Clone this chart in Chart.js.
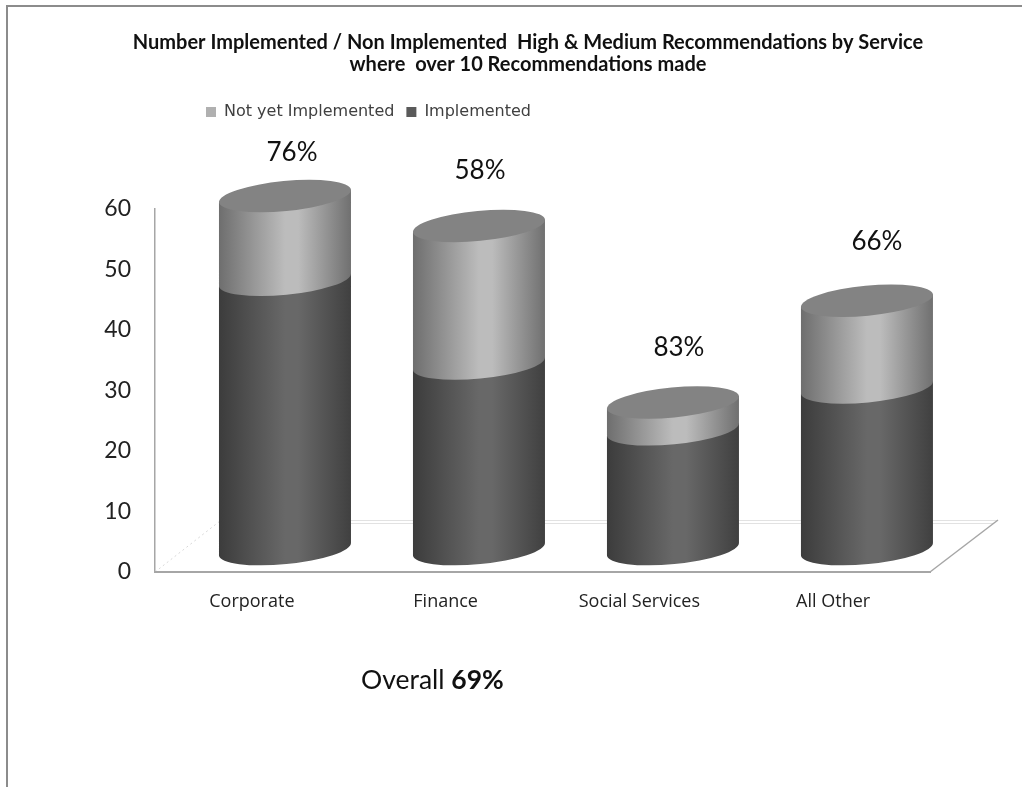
<!DOCTYPE html>
<html>
<head>
<meta charset="utf-8">
<style>
html, body { margin: 0; padding: 0; background: #fff; overflow: hidden; }
#wrap { width: 1022px; height: 787px; }
</style>
<script src="https://cdn.jsdelivr.net/npm/chart.js@4/dist/chart.umd.min.js"></script>
</head>
<body>
<div id="wrap"><canvas id="chart" width="1022" height="787"></canvas></div>
<script>
const categories = ["Corporate", "Finance", "Social Services", "All Other"];
const implemented = [45, 31, 20, 27];
const notImplemented = [14, 23, 4.5, 14.5];
const percentLabels = ["76%", "58%", "83%", "66%"];
const titleLines = [
  "Number Implemented / Non Implemented  High & Medium Recommendations by Service",
  "where  over 10 Recommendations made"
];
const yTicks = [0, 10, 20, 30, 40, 50, 60];

// the percent labels were placed by hand in the original, not evenly
const labelShiftX = [7, 1, 6, 10];
const labelShiftY = [43, 55, 55, 59];

const TILT = -5.5 * Math.PI / 180;
const RY = 15;

// horizontal shading across one cylinder
function shade(ctx, left, right, edge, mid, edge2) {
  const g = ctx.createLinearGradient(left, 0, right, 0);
  g.addColorStop(0, edge);
  g.addColorStop(0.5, mid);
  g.addColorStop(0.6, mid);
  g.addColorStop(1, edge2);
  return g;
}

// one section of a cylinder between two centre heights
function body(ctx, x, w, yTop, yBottom, fill) {
  const rx = w / 2 / Math.cos(TILT);
  ctx.beginPath();
  ctx.ellipse(x, yBottom, rx, RY, TILT, Math.PI, 0, true);
  ctx.lineTo(x + w / 2, yTop + w / 2 * Math.tan(TILT));
  ctx.lineTo(x - w / 2, yTop - w / 2 * Math.tan(TILT));
  ctx.closePath();
  ctx.fillStyle = fill;
  ctx.fill();
}

const cylinders = {
  id: "cylinders",
  beforeInit(chart) {
    // room between the legend and the plot
    const fit = chart.legend.fit;
    chart.legend.fit = function () {
      fit.call(this);
      this.height += 79;
    };
  },
  afterLayout(chart) {
    chart.legend.left = 194;
    chart.scales.y.left = 60; // tick labels get clipped to this
  },
  beforeDraw(chart) {
    const { ctx, chartArea: a } = chart;
    ctx.save();
    // outer frame
    ctx.strokeStyle = "#8c8c8c";
    ctx.lineWidth = 2;
    ctx.beginPath();
    ctx.moveTo(7, 787);
    ctx.lineTo(7, 6);
    ctx.lineTo(1022, 6);
    ctx.stroke();
    // floor of the 3d plot
    ctx.strokeStyle = "#e2e2e2";
    ctx.lineWidth = 1;
    ctx.beginPath();
    ctx.moveTo(a.left + 65, a.bottom - 51.5);
    ctx.lineTo(a.right + 68, a.bottom - 51.5);
    ctx.moveTo(a.left + 65, a.bottom - 48.5);
    ctx.lineTo(a.right + 64, a.bottom - 48.5);
    ctx.stroke();
    ctx.setLineDash([2, 3]);
    ctx.strokeStyle = "#d8d8d8";
    ctx.beginPath();
    ctx.moveTo(a.left, a.bottom);
    ctx.lineTo(a.left + 65, a.bottom - 51);
    ctx.stroke();
    ctx.setLineDash([]);
    ctx.strokeStyle = "#a6a6a6";
    ctx.lineWidth = 1.5;
    ctx.beginPath();
    ctx.moveTo(a.right, a.bottom);
    ctx.lineTo(a.right + 68, a.bottom - 52);
    ctx.stroke();
    ctx.restore();
  },
  beforeDatasetsDraw(chart) {
    const { ctx } = chart;
    const low = chart.getDatasetMeta(0).data;
    const high = chart.getDatasetMeta(1).data;
    ctx.save();
    low.forEach((bar, i) => {
      const top = high[i];
      const l = bar.x - bar.width / 2, r = bar.x + bar.width / 2;
      const rx = bar.width / 2 / Math.cos(TILT);
      body(ctx, bar.x, bar.width, bar.y, bar.base, shade(ctx, l, r, "#3c3c3c", "#686868", "#404040"));
      body(ctx, bar.x, bar.width, top.y, top.base, shade(ctx, l, r, "#6e6e6e", "#bcbcbc", "#707070"));
      ctx.beginPath();
      ctx.ellipse(top.x, top.y, rx, RY, TILT, 0, Math.PI * 2);
      ctx.fillStyle = "#838383";
      ctx.fill();
    });
    ctx.restore();
    return false;
  },
  afterDraw(chart) {
    const { ctx } = chart;
    const high = chart.getDatasetMeta(1).data;
    ctx.save();
    ctx.fillStyle = "#111";
    ctx.textBaseline = "middle";
    ctx.textAlign = "center";
    ctx.font = "26px Lato";
    high.forEach((bar, i) => {
      ctx.fillText(percentLabels[i], bar.x + labelShiftX[i], bar.y - labelShiftY[i]);
    });
    ctx.textAlign = "left";
    ctx.font = "26.5px Lato";
    ctx.fillText("Overall ", 361, 680);
    const w = ctx.measureText("Overall ").width;
    ctx.font = "bold 26.5px Lato";
    ctx.fillText("69%", 361 + w, 680);
    ctx.restore();
  }
};

new Chart(document.getElementById("chart"), {
  type: "bar",
  data: {
    labels: categories,
    datasets: [
      {
        label: "Implemented",
        data: categories.map((c, i) => ({ x: i, y: implemented[i] })),
        backgroundColor: "#5a5a5a",
        xAxisID: "xBar",
        yAxisID: "yBar",
        barThickness: 132
      },
      {
        label: "Not yet Implemented",
        data: categories.map((c, i) => ({ x: i, y: notImplemented[i] })),
        backgroundColor: "#b0b0b0",
        xAxisID: "xBar",
        yAxisID: "yBar",
        barThickness: 132
      }
    ]
  },
  plugins: [cylinders],
  options: {
    responsive: false,
    animation: false,
    layout: { padding: { left: 126, right: 92, top: 0, bottom: 0 } },
    plugins: {
      tooltip: { enabled: false },
      title: {
        display: true,
        text: titleLines,
        color: "#111",
        font: { family: "Lato", size: 20, weight: "bold", lineHeight: 1.1 },
        padding: { top: 32, bottom: 16 }
      },
      legend: {
        display: true,
        position: "top",
        align: "start",
        reverse: true,
        labels: {
          boxWidth: 10,
          boxHeight: 10,
          padding: 12,
          color: "#404040",
          font: { family: "DejaVu Sans", size: 16 }
        }
      }
    },
    scales: {
      // the labelled axes
      x: {
        type: "category",
        position: "bottom",
        afterFit: s => { s.height = 215; },
        grid: { display: false },
        border: { color: "#a6a6a6", width: 2 },
        ticks: { color: "#222", padding: 11, maxRotation: 0, font: { family: "Open Sans", size: 18 } }
      },
      y: {
        type: "linear",
        position: "left",
        min: 0,
        max: 60,
        afterFit: s => { s.width = 29; },
        afterBuildTicks: s => { s.ticks = yTicks.map(v => ({ value: v })); },
        grid: { display: false },
        border: { color: "#a6a6a6", width: 1.5 },
        ticks: { color: "#222", padding: 16, font: { family: "Lato", size: 23 } }
      },
      // the 3d bars stand back from the axes, so they get their own scales
      xBar: { type: "linear", axis: "x", display: false, stacked: true, offset: false, min: -0.67, max: 3.325 },
      yBar: { type: "linear", axis: "y", display: false, stacked: true, min: -3.83, max: 56.83 }
    }
  }
});
</script>
</body>
</html>
